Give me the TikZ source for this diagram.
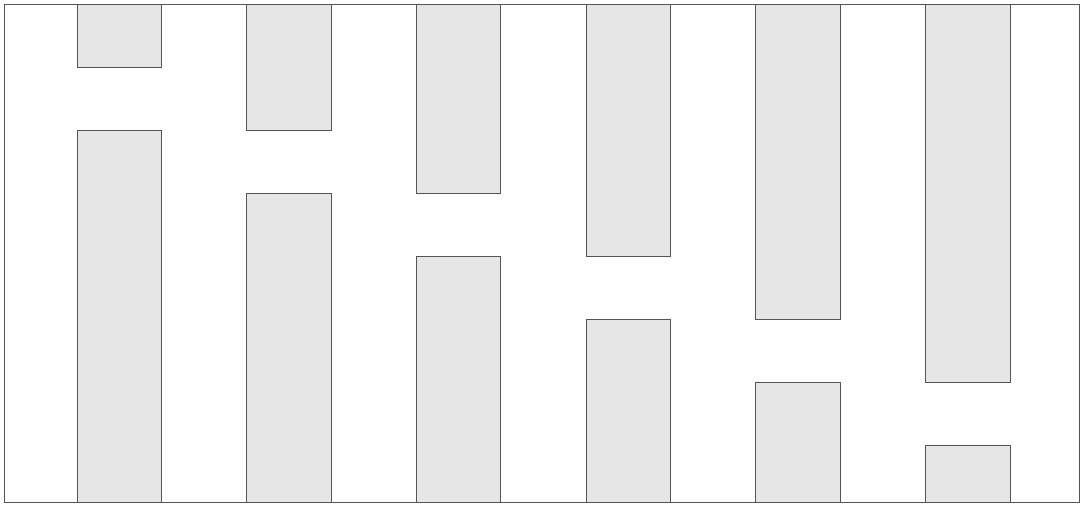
\documentclass[tikz,border=0pt]{standalone}
\definecolor{barfill}{HTML}{E6E6E6}
\definecolor{edge}{HTML}{555555}
\begin{document}
\begin{tikzpicture}[x=1pt,y=-1pt,
  bar/.style={fill=barfill,draw=edge,line width=0.9pt},
  frame/.style={draw=edge,line width=0.9pt}]
\useasboundingbox (0,0) rectangle (1081,506);
\foreach \i in {0,...,5}{
  \pgfmathsetmacro{\xl}{77+169.7*\i}
  \pgfmathsetmacro{\xr}{\xl+84.5}
  \pgfmathsetmacro{\yb}{67.3+63*\i}
  \pgfmathsetmacro{\yt}{\yb+63}
  \path[bar] (\xl,4.5) rectangle (\xr,\yb);
  \path[bar] (\xl,\yt) rectangle (\xr,502.5);
}
\path[frame] (4.5,4.5) rectangle (1079.5,502.5);
\end{tikzpicture}
\end{document}
